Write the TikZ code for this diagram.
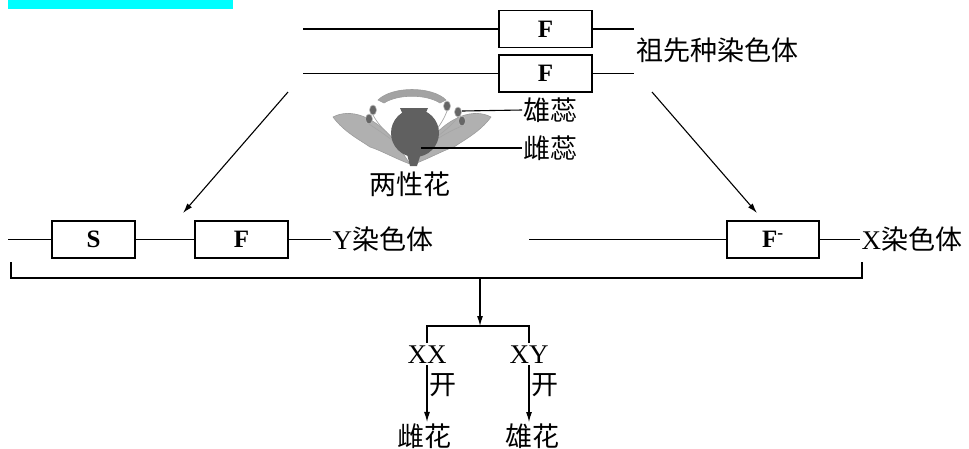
\documentclass[tikz,border=0pt]{standalone}
\usepackage{fontspec}
\setmainfont{Liberation Serif}
\newfontfamily\cjk{Noto Sans CJK SC}
\usetikzlibrary{arrows,arrows.meta,positioning,calc}
\definecolor{hilite}{RGB}{0,255,255}

\begin{document}
\begin{tikzpicture}[x=1pt,y=-1pt,>={Latex[length=10pt,width=6pt]},line width=1.1pt,
  gene/.style={draw,minimum height=37pt,inner sep=0pt,
    font=\fontsize{25}{25}\selectfont\bfseries},
  lab/.style={inner sep=1pt,font=\fontsize{27}{27}\selectfont\cjk},
  geno/.style={inner sep=1pt,font=\fontsize{27}{27}\selectfont},
  petal/.style={fill=gray!62,draw=gray!78,line width=0.6pt},
  anther/.style={fill=gray!80!black,draw=gray!50,line width=0.6pt}]
  \useasboundingbox (0,0) rectangle (969,448);
  \fill[hilite] (8,0) rectangle (233,9);

  % ancestral chromosomes
  \node[gene,minimum width=93pt] (fa) at (545.5,29) {F};
  \node[gene,minimum width=93pt] (fb) at (545.5,73.5) {F};
  \coordinate (fal) at (303,29);
  \coordinate (far) at (634,29);
  \coordinate (fbl) at (303,73.5);
  \coordinate (fbr) at (634,73.5);
  \draw (fal) -- (fa) -- (far);
  \draw (fbl) -- (fb) -- (fbr);
  \node[lab,anchor=west] (anc) at (635,50) {祖先种染色体};

  % bisexual flower
  \begin{scope}[shift={(412,0)}]
    \foreach \s in {1,-1}
      \fill[petal,xscale=\s] (-79,117) .. controls (-62,108) and (-38,116) .. (-18,140)
        -- (-2,164) .. controls (-18,158) and (-32,150) .. (-42,147)
        .. controls (-52,140) and (-68,132) .. cycle;
    \fill[petal,fill=gray!72] (-34,100) .. controls (-20,86) and (20,86) .. (34,100)
      -- (28,103) .. controls (14,94) and (-14,94) .. (-28,103) -- cycle;
    \foreach \x/\y in {-39/110,-43/119,35/106,46/112,50/121}
      \draw[gray!70,line width=0.7pt] (0,158) .. controls (0.4*\x,140) and (0.8*\x,130) .. (\x,\y+5);
    \foreach \x/\y in {-39/110,-43/119,35/106,46/112,50/121}
      \filldraw[anther] (\x,\y) ellipse (3.5 and 5);
    \fill[gray!75!black] (-12,108) -- (16,108) -- (12,117) -- (-8,117) -- cycle;
    \fill[gray!75!black] (3,133) circle (24);
    \fill[gray!75!black] (-6,150) -- (10,150) -- (5,166) -- (-2,166) -- cycle;
  \end{scope}
  \node[lab,anchor=west] (xr) at (522,110) {雄蕊};
  \node[lab,anchor=west] (cr) at (522,148) {雌蕊};
  \coordinate (xrp) at (462,111);
  \coordinate (crp) at (421,148);
  \draw (xrp) -- (xr.west);
  \draw (crp) -- (cr.west);
  \node[lab] (bis) at (410,184) {两性花};

  % derived chromosomes
  \coordinate (al) at (288,92);
  \coordinate (ale) at (183,213);
  \coordinate (ar) at (652,92);
  \coordinate (are) at (757,213);
  \draw[->] (al) -- (ale);
  \draw[->] (ar) -- (are);

  \node[gene,minimum width=83pt] (s) at (93.5,239.5) {S};
  \node[gene,minimum width=93pt] (fy) at (241.5,239.5) {F};
  \node[geno,anchor=west] (ychr) at (331,239.5) {Y{\cjk 染色体}};
  \coordinate (yl) at (8,239.5);
  \draw (yl) -- (s) -- (fy) -- (ychr);

  \node[gene,minimum width=92pt] (fx) at (773,239.5) {F\textsuperscript{-}};
  \node[geno,anchor=west] (xchr) at (860,239.5) {X{\cjk 染色体}};
  \coordinate (xl) at (529,239.5);
  \draw (xl) -- (fx) -- (xchr);

  % offspring
  \coordinate (bl) at (11,262);
  \coordinate (br) at (862,262);
  \coordinate (bm) at (480,278);
  \coordinate (bme) at (480,326);
  \draw (bl) |- (bm) -| (br);
  \draw[->] (bm) -- (bme);

  \node[geno] (xx) at (427,355) {XX};
  \node[geno] (xy) at (529,355) {XY};
  \draw (xx.north) ++(0,-2) |- (bme) -| ($(xy.north)+(0,-2)$);
  \node[lab] (fem) at (424,436) {雌花};
  \node[lab] (mal) at (532,436) {雄花};
  \draw[->] (xx) -- (xx |- fem.north) node[pos=0.35,right=1pt,lab] {开};
  \draw[->] (xy) -- (xy |- mal.north) node[pos=0.35,right=1pt,lab] {开};
\end{tikzpicture}
\end{document}
